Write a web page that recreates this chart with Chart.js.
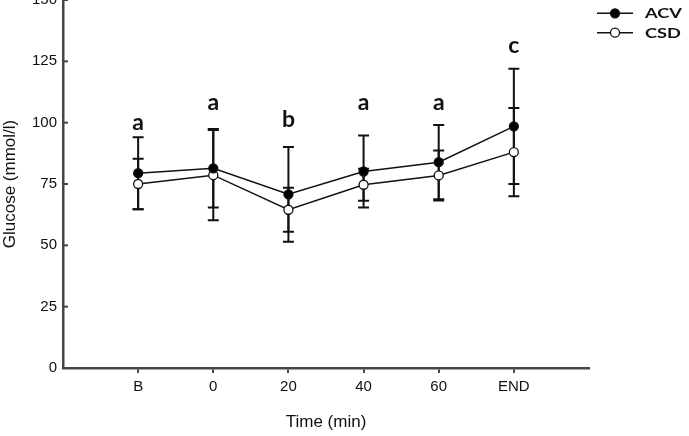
<!DOCTYPE html>
<html><head><meta charset="utf-8">
<script src="https://cdn.jsdelivr.net/npm/chart.js@4.4.1/dist/chart.umd.min.js"></script>
<style>
html,body{margin:0;padding:0;background:#fff;overflow:hidden;width:689px;height:436px;}
#wrap{position:absolute;left:0;top:-20px;width:689px;height:456px;}
</style></head><body>
<div id="wrap"><canvas id="c" width="689" height="456"></canvas></div>
<script>
// ---- data ----
const categories = ['B', '0', '20', '40', '60', 'END'];
const seriesNames = ['ACV', 'CSD'];
const acvMean = [79.4, 81.4, 70.8, 80.1, 83.9, 98.5];
const acvSD   = [14.7, 16.0, 19.3, 14.7, 15.1, 23.5];
const csdMean = [75.0, 78.6, 64.5, 74.7, 78.5, 88.0];
const csdSD   = [10.3, 18.4, 9.0, 6.5, 10.2, 18.0];
const sigLetters = ['a', 'a', 'b', 'a', 'a', 'c'];
const sigLetterLevel = [100.2, 108.2, 101.3, 108.2, 108.2, 131.5];
const yTicks = [0, 25, 50, 75, 100, 125, 150];

const AXIS = '#454545';
const FONT = "'Liberation Sans', Arial, sans-serif";
const BOLD = "Lato, 'Open Sans', sans-serif";

const errorBars = {
  id: 'errorBars',
  beforeDatasetsDraw(chart) {
    const ctx = chart.ctx, ys = chart.scales.y, xs = chart.scales.x;
    const sets = [[acvMean, acvSD], [csdMean, csdSD]];
    ctx.save();
    ctx.strokeStyle = '#111';
    ctx.lineWidth = 2;
    sets.forEach(([m, sd]) => {
      m.forEach((v, i) => {
        const x = xs.getPixelForValue(i);
        const yt = ys.getPixelForValue(v + sd[i]);
        const yb = ys.getPixelForValue(v - sd[i]);
        ctx.beginPath();
        ctx.moveTo(x, yt); ctx.lineTo(x, yb);
        ctx.moveTo(x - 5.5, yt); ctx.lineTo(x + 5.5, yt);
        ctx.moveTo(x - 5.5, yb); ctx.lineTo(x + 5.5, yb);
        ctx.stroke();
      });
    });
    ctx.restore();
  }
};

const extras = {
  id: 'extras',
  afterDraw(chart) {
    const ctx = chart.ctx, ys = chart.scales.y, xs = chart.scales.x;
    const left = chart.chartArea.left;
    ctx.save();
    // inward y ticks
    ctx.strokeStyle = AXIS; ctx.lineWidth = 2;
    ys.ticks.forEach(t => {
      const y = ys.getPixelForValue(t.value);
      ctx.beginPath(); ctx.moveTo(left, y); ctx.lineTo(left + 5, y); ctx.stroke();
    });
    // significance letters
    ctx.fillStyle = '#111';
    ctx.font = "bold 23px " + BOLD;
    ctx.textAlign = 'center'; ctx.textBaseline = 'middle';
    sigLetters.forEach((s, i) => {
      ctx.fillText(s, xs.getPixelForValue(i), ys.getPixelForValue(sigLetterLevel[i]));
    });
    // legend
    const fills = ['#000', '#fff'];
    seriesNames.forEach((name, k) => {
      const y = 33.3 + k * 19.4;
      ctx.strokeStyle = '#111'; ctx.lineWidth = 1.5;
      ctx.beginPath(); ctx.moveTo(597, y); ctx.lineTo(633, y); ctx.stroke();
      ctx.beginPath(); ctx.arc(615, y, 4.5, 0, Math.PI * 2);
      ctx.fillStyle = fills[k]; ctx.fill(); ctx.lineWidth = 1.3; ctx.stroke();
      ctx.fillStyle = '#111';
      ctx.font = "bold 14px " + BOLD;
      ctx.textAlign = 'left'; ctx.textBaseline = 'middle';
      ctx.save();
      ctx.translate(645, y + 0.5);
      ctx.scale(1.3, 1);
      ctx.fillText(name, 0, 0);
      ctx.restore();
    });
    ctx.restore();
  }
};

const mk = (arr) => arr.map((v, i) => ({ x: i, y: v }));

new Chart(document.getElementById('c'), {
  type: 'line',
  data: {
    datasets: [
      { label: seriesNames[0], data: mk(acvMean), borderColor: '#111', borderWidth: 1.5,
        pointRadius: 4.5, pointBackgroundColor: '#000', pointBorderColor: '#111', pointBorderWidth: 1.3 },
      { label: seriesNames[1], data: mk(csdMean), borderColor: '#111', borderWidth: 1.5,
        pointRadius: 4.5, pointBackgroundColor: '#fff', pointBorderColor: '#111', pointBorderWidth: 1.3 }
    ]
  },
  options: {
    responsive: false, animation: false,
    layout: { padding: { top: 20, right: 100, left: 0, bottom: 0 } },
    plugins: { legend: { display: false }, tooltip: { enabled: false } },
    scales: {
      x: {
        type: 'linear', min: -1, max: 6,
        afterBuildTicks: s => { s.ticks = s.ticks.filter(t => t.value >= 0 && t.value <= 5); },
        afterFit: s => { s.height = 68; s.paddingLeft = 0; s.paddingRight = 0; },
        ticks: { stepSize: 1, autoSkip: false, maxRotation: 0, padding: 5, color: '#111',
                 font: { family: FONT, size: 15 }, callback: v => categories[v] ?? '' },
        grid: { display: true, drawOnChartArea: false, drawTicks: true, tickLength: 5, color: AXIS, lineWidth: 2 },
        border: { display: true, color: AXIS, width: 2.5 },
        title: { display: true, text: 'Time (min)', color: '#111', font: { family: FONT, size: 17 },
                 padding: { top: 0, bottom: 3 } }
      },
      y: {
        min: 0, max: 150,
        afterBuildTicks: s => { s.ticks = yTicks.map(v => ({ value: v })); },
        afterFit: s => { s.width = 63; s.paddingTop = 0; s.paddingBottom = 0; },
        ticks: { stepSize: 25, padding: 6, color: '#111', font: { family: FONT, size: 15 } },
        grid: { display: true, drawOnChartArea: false, drawTicks: false, color: AXIS },
        border: { display: true, color: AXIS, width: 2.5 },
        title: { display: true, text: 'Glucose (mmol/l)', color: '#111', font: { family: FONT, size: 17 },
                 padding: { top: 0, bottom: 0 } }
      }
    }
  },
  plugins: [errorBars, extras]
});
</script>
</body></html>
